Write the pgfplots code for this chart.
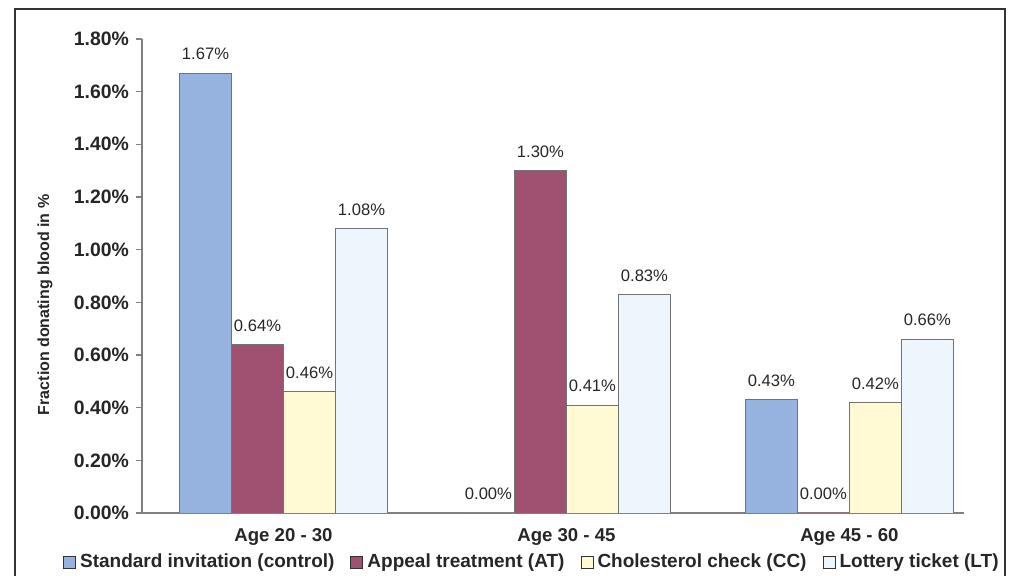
\documentclass[border=0pt]{standalone}
\usepackage{fontspec}
\setmainfont{Liberation Sans}
\usepackage{pgfplots}
\pgfplotsset{compat=1.18}
\definecolor{cBlue}{RGB}{149,179,222}
\definecolor{cMaroon}{RGB}{160,80,113}
\definecolor{cYellow}{RGB}{255,250,212}
\definecolor{cLight}{RGB}{238,246,253}
\definecolor{axgray}{RGB}{128,128,128}
\begin{document}
\begin{tikzpicture}
\path[use as bounding box] (0,0) rectangle (509pt,288pt);
\begin{axis}[
  at={(71pt,31.5pt)}, anchor=south west,
  scale only axis, width=411pt, height=237pt,
  xmin=-0.5, xmax=2.405, ymin=0, ymax=1.8,
  axis y line*=left, axis x line*=bottom,
  axis line style={axgray, line width=0.8pt, -},
  ybar=0pt, bar width=26pt,
  ytick={0,0.2,...,1.8},
  tick align=outside, major tick length=3pt,
  ytick style={axgray, line width=0.6pt},
  xtick={0,1,2},
  xticklabels={Age 20 - 30, Age 30 - 45, Age 45 - 60},
  x tick style={draw=none},
  /pgf/number format/assume math mode=true,
  yticklabel={\pgfmathprintnumber[fixed,fixed zerofill,precision=2]{\tick}\%},
  yticklabel style={font=\bfseries\fontsize{9.7}{11}\selectfont, text=black!85},
  xticklabel style={font=\bfseries\fontsize{9.3}{11}\selectfont, text=black!85, yshift=-1pt},
  ylabel={Fraction donating blood in \%},
  ylabel style={font=\bfseries\fontsize{8}{9}\selectfont, text=black!85,
    at={(rel axis cs:-0.118,0.439)}, anchor=center, rotate=0},
  nodes near coords={\pgfmathprintnumber[fixed,fixed zerofill,precision=2]{\pgfplotspointmeta}\%},
  nodes near coords style={font=\fontsize{8.3}{9}\selectfont, text=black!85, yshift=3pt},
  every axis plot/.append style={draw=black!55, line width=0.4pt},
  legend columns=4,
  legend style={draw=none, fill=none, at={(rel axis cs:0.4755,-0.104)}, anchor=center,
    font=\bfseries\fontsize{9.5}{11}\selectfont, text=black!85,
    /tikz/every even column/.append style={column sep=6pt}},
  legend image code/.code={\draw[#1, draw=black!80, line width=0.5pt] (0pt,-3pt) rectangle (6pt,3pt);},
]
\addplot[fill=cBlue] coordinates {(0,1.67) (1,0) (2,0.43)};
\addplot[fill=cMaroon] coordinates {(0,0.64) (1,1.30) (2,0)};
\addplot[fill=cYellow] coordinates {(0,0.46) (1,0.41) (2,0.42)};
\addplot[fill=cLight] coordinates {(0,1.08) (1,0.83) (2,0.66)};
\legend{Standard invitation (control), Appeal treatment (AT), Cholesterol check (CC), Lottery ticket (LT)}
\end{axis}
\draw[line width=1pt, black!80] (7.5pt,-5pt) rectangle (502.5pt,283.5pt);
\end{tikzpicture}
\end{document}
